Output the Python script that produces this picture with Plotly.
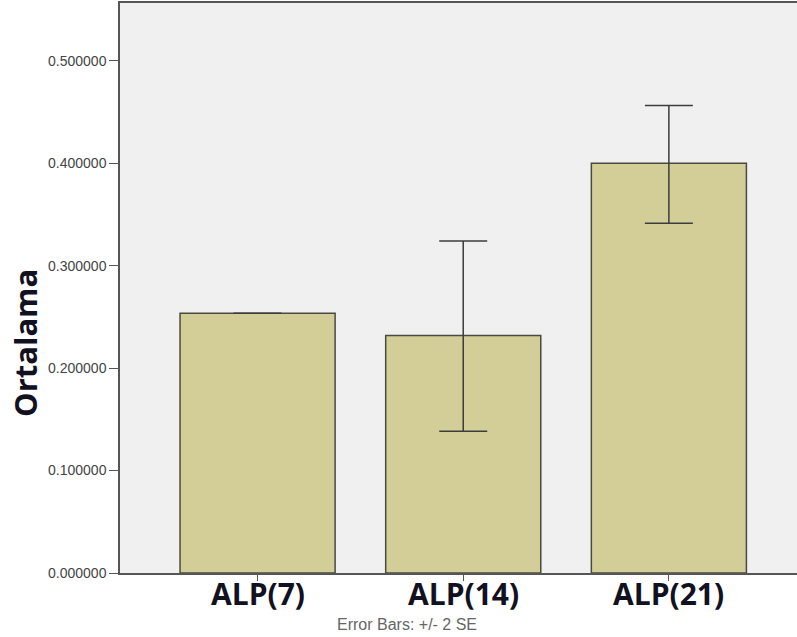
import plotly.graph_objects as go

# Group means with +/- 2 SE error bars
categories = ["ALP(7)", "ALP(14)", "ALP(21)"]
means = [0.2537, 0.2318, 0.4000]
err_plus = [0.0, 0.0925, 0.0566]
err_minus = [0.0, 0.0935, 0.0585]
y_ticks = [0.0, 0.1, 0.2, 0.3, 0.4, 0.5]
y_tick_text = [f"{v:.6f}" for v in y_ticks]

W, H = 797, 637
L, R, T, B = 120, 0, 3, 64
pw, ph = W - L - R, H - T - B


def px_to_paper(px, py):
    """Convert page pixel coordinates to paper coordinates."""
    return (px - L) / pw, (H - py - B) / ph


fig = go.Figure()
fig.add_trace(go.Bar(
    x=list(range(len(categories))),
    y=means,
    marker=dict(color="#d3ce98", line=dict(color="#4a4a40", width=1.5)),
    width=0.754,
    error_y=dict(type="data", symmetric=False, array=err_plus, arrayminus=err_minus,
                 color="#3c3c3c", thickness=1.5, width=24),
    hoverinfo="skip",
))

# Category labels below the axis
_, label_y = px_to_paper(0, 594)
for i, name in enumerate(categories):
    fig.add_annotation(x=i, y=label_y, xref="x", yref="paper", text=f"<b>{name}</b>",
                       showarrow=False, xanchor="center", yanchor="middle",
                       font=dict(family="Open Sans", size=30, color="#111122"))

nx, ny = px_to_paper(407, 624)
fig.add_annotation(x=nx, y=ny, xref="paper", yref="paper", text="Error Bars: +/- 2 SE",
                   showarrow=False, xanchor="center", yanchor="middle",
                   font=dict(family="Liberation Sans", size=16, color="#666666"))

tx, ty = px_to_paper(25, 343)
fig.add_annotation(text="<b>Ortalama</b>", xref="paper", yref="paper", x=tx, y=ty,
                   showarrow=False, textangle=-90, xanchor="center", yanchor="middle",
                   font=dict(family="Open Sans", size=31, color="#111122"))

fig.update_layout(
    width=W, height=H,
    margin=dict(l=L, r=R, t=T, b=B),
    paper_bgcolor="white",
    plot_bgcolor="#f0f0f0",
    showlegend=False,
    xaxis=dict(range=[-0.669, 2.623], tickvals=[0, 1, 2], ticktext=["", "", ""],
               ticks="outside", ticklen=6, tickcolor="#555555",
               showline=True, linecolor="#555555", linewidth=1.5, mirror=True,
               showgrid=False, zeroline=False),
    yaxis=dict(range=[0, 0.5566], tickvals=y_ticks, ticktext=y_tick_text,
               ticks="outside", ticklen=9, tickcolor="#555555",
               tickfont=dict(family="Liberation Sans", size=14, color="#444444"),
               showline=True, linecolor="#555555", linewidth=1.5,
               showgrid=False, zeroline=False),
)

fig.write_html("out.html")
